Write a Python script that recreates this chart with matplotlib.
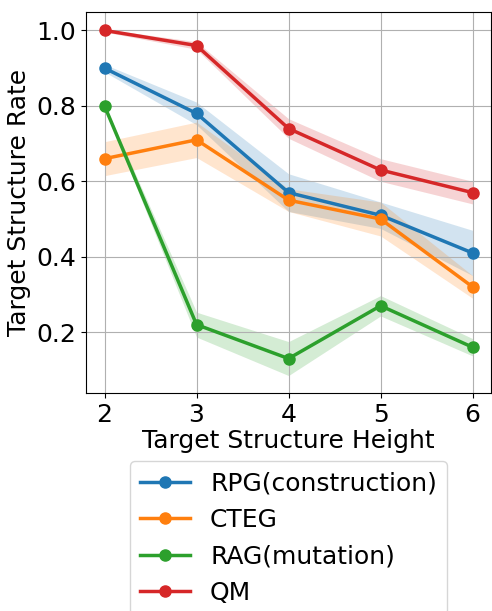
import numpy as np
import matplotlib
matplotlib.use("Agg")
from matplotlib import pyplot as plt

# target structure heights
heights = [2, 3, 4, 5, 6]

# mean rates
rpg = [0.90, 0.78, 0.57, 0.51, 0.41]
cteg = [0.66, 0.71, 0.55, 0.50, 0.32]
rag = [0.80, 0.22, 0.13, 0.27, 0.16]
qm = [1.00, 0.96, 0.74, 0.63, 0.57]

# half-width of the shaded bands
rpg_err = [0.010, 0.030, 0.050, 0.035, 0.060]
cteg_err = [0.045, 0.047, 0.030, 0.045, 0.030]
rag_err = [0.005, 0.033, 0.045, 0.027, 0.023]
qm_err = [0.004, 0.010, 0.026, 0.030, 0.030]

labels = ["RPG(construction)", "CTEG", "RAG(mutation)", "QM"]
means = [rpg, cteg, rag, qm]
errs = [rpg_err, cteg_err, rag_err, qm_err]
colors = ["tab:blue", "tab:orange", "tab:green", "tab:red"]

fig = plt.figure(figsize=(4.92, 6.11), dpi=100)
ax = fig.add_axes([0.175, 0.357, 0.823, 0.624])

for lab, m, e, c in zip(labels, means, errs, colors):
    m = np.array(m)
    e = np.array(e)
    ax.plot(heights, m, marker='o', color=c, lw=2.5, markersize=8, label=lab)
    ax.fill_between(heights, m - e, m + e, color=c, alpha=0.2, lw=0)

ax.set_xticks(heights)
ax.set_yticks([0.2, 0.4, 0.6, 0.8, 1.0])
ax.tick_params(labelsize=18)
ax.grid(True)
ax.set_xlabel("Target Structure Height", fontsize=18, labelpad=2)
ax.set_ylabel("Target Structure Rate", fontsize=18)
ax.legend(loc='upper center', bbox_to_anchor=(0.5, -0.147), fontsize=18,
          ncol=1)

plt.savefig("out.png", dpi=100)
